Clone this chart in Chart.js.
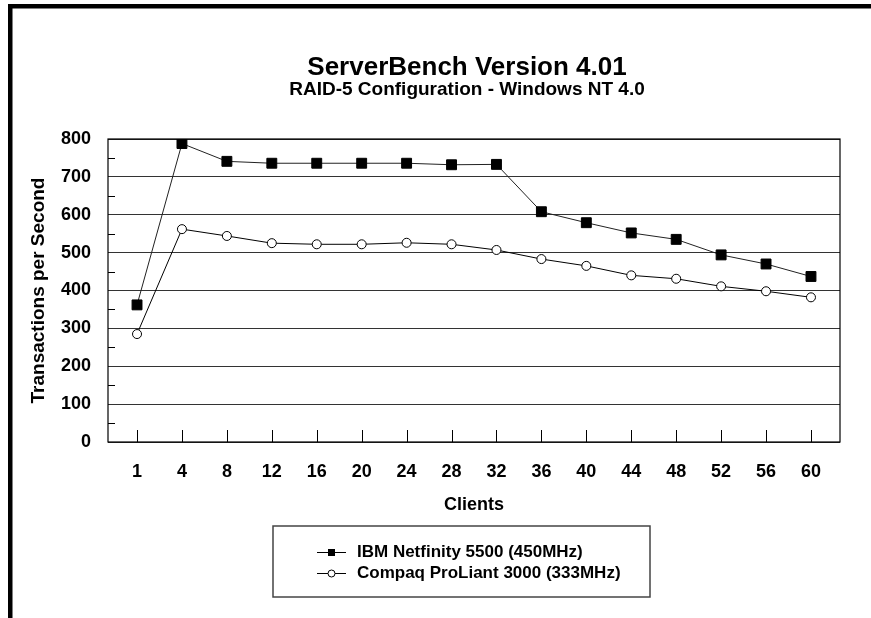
<!DOCTYPE html>
<html>
<head>
<meta charset="utf-8">
<title>ServerBench Version 4.01</title>
<script src="https://cdn.jsdelivr.net/npm/chart.js@4.4.0/dist/chart.umd.min.js"></script>
<style>
  html, body { margin: 0; padding: 0; background: #fff; }
  #chart { display: block; }
</style>
</head>
<body>
<canvas id="chart" width="871" height="618"></canvas>
<script>
// Data
var clients = ['1', '4', '8', '12', '16', '20', '24', '28', '32', '36', '40', '44', '48', '52', '56', '60'];
var ibmValues = [362, 788, 741, 736, 736, 736, 736, 732, 733, 608, 579, 552, 535, 494, 470, 437];
var compaqValues = [285, 562, 544, 525, 522, 522, 526, 522, 507, 483, 465, 440, 431, 411, 398, 382];
var seriesNames = ['IBM Netfinity 5500 (450MHz)', 'Compaq ProLiant 3000 (333MHz)'];
var yTicks = [0, 100, 200, 300, 400, 500, 600, 700, 800];
var yMinorTicks = [50, 150, 250, 350, 450, 550, 650, 750];

var FONT = '"Liberation Sans", Arial, sans-serif';

// categories sit on an index axis so the end gaps can be a bit wider than half a slot
function toPoints(values) {
  return values.map(function (v, i) { return { x: i, y: v }; });
}

// frame, titles, inside tick marks and the boxed legend
var decorations = {
  id: 'decorations',
  beforeDraw: function (chart) {
    var ctx = chart.ctx;
    ctx.save();
    ctx.fillStyle = '#fff';
    ctx.fillRect(0, 0, chart.width, chart.height);
    ctx.restore();
  },
  afterDraw: function (chart) {
    var ctx = chart.ctx;
    var area = chart.chartArea;
    var x = chart.scales.x;
    var y = chart.scales.y;
    ctx.save();

    // page frame (top and left only)
    ctx.fillStyle = '#000';
    ctx.fillRect(8, 4, chart.width - 8, 4.5);
    ctx.fillRect(8, 4, 4.5, chart.height - 4);

    // titles
    ctx.fillStyle = '#000';
    ctx.textAlign = 'center';
    ctx.textBaseline = 'alphabetic';
    ctx.font = 'bold 26px ' + FONT;
    ctx.fillText('ServerBench Version 4.01', 467, 75);
    ctx.font = 'bold 19px ' + FONT;
    ctx.fillText('RAID-5 Configuration - Windows NT 4.0', 467, 95);

    // plot border
    ctx.strokeStyle = '#000';
    ctx.lineWidth = 1.2;
    ctx.strokeRect(area.left, area.top, area.right - area.left, area.bottom - area.top);

    // x ticks pointing inward
    ctx.beginPath();
    for (var i = 0; i < clients.length; i++) {
      var px = Math.round(x.getPixelForValue(i)) + 0.5;
      ctx.moveTo(px, area.bottom);
      ctx.lineTo(px, area.bottom - 12);
    }
    // y minor ticks pointing inward
    yMinorTicks.forEach(function (v) {
      var py = Math.round(y.getPixelForValue(v)) + 0.5;
      ctx.moveTo(area.left, py);
      ctx.lineTo(area.left + 7, py);
    });
    ctx.lineWidth = 1;
    ctx.stroke();

    // legend box
    var box = { left: 273, top: 526, right: 650, bottom: 597 };
    ctx.strokeStyle = '#444';
    ctx.lineWidth = 1.5;
    ctx.strokeRect(box.left, box.top, box.right - box.left, box.bottom - box.top);

    var rows = [552, 573];
    chart.data.datasets.forEach(function (ds, idx) {
      var ry = rows[idx] + 0.5;
      ctx.strokeStyle = '#000';
      ctx.lineWidth = 1;
      ctx.beginPath();
      ctx.moveTo(317, ry);
      ctx.lineTo(346, ry);
      ctx.stroke();
      if (ds.pointStyle === 'rect') {
        ctx.fillStyle = '#000';
        ctx.fillRect(328, ry - 3.5, 7, 7);
      } else {
        ctx.fillStyle = '#fff';
        ctx.beginPath();
        ctx.arc(331.5, ry, 3.5, 0, Math.PI * 2);
        ctx.fill();
        ctx.stroke();
      }
      ctx.fillStyle = '#000';
      ctx.font = 'bold 17px ' + FONT;
      ctx.textAlign = 'left';
      ctx.textBaseline = 'middle';
      ctx.fillText(ds.label, 357, ry);
    });

    ctx.restore();
  }
};

new Chart(document.getElementById('chart'), {
  type: 'line',
  data: {
    datasets: [{
      label: seriesNames[0],
      data: toPoints(ibmValues),
      borderColor: '#222',
      borderWidth: 1,
      pointStyle: 'rect',
      pointRadius: 7,
      pointBackgroundColor: '#000',
      pointBorderColor: '#000',
      pointBorderWidth: 1,
      tension: 0
    }, {
      label: seriesNames[1],
      data: toPoints(compaqValues),
      borderColor: '#000',
      borderWidth: 1,
      pointStyle: 'circle',
      pointRadius: 4.5,
      pointBackgroundColor: '#fff',
      pointBorderColor: '#000',
      pointBorderWidth: 1,
      tension: 0
    }]
  },
  options: {
    responsive: false,
    animation: false,
    layout: { padding: { left: 0, right: 31, top: 139, bottom: 96 } },
    plugins: {
      legend: { display: false },
      title: { display: false },
      tooltip: { enabled: false }
    },
    scales: {
      x: {
        type: 'linear',
        min: -0.646,
        max: clients.length - 1 + 0.646,
        afterBuildTicks: function (scale) {
          scale.ticks = clients.map(function (c, i) { return { value: i }; });
        },
        grid: { display: false, drawTicks: false },
        border: { display: false },
        ticks: {
          color: '#000',
          padding: 19,
          maxRotation: 0,
          font: { family: FONT, size: 18, weight: 'bold' },
          callback: function (value) { return clients[value]; }
        },
        title: {
          display: true,
          text: 'Clients',
          color: '#000',
          padding: { top: 0, bottom: 6 },
          font: { family: FONT, size: 18, weight: 'bold' }
        },
        afterFit: function (scale) { scale.height = 80; }
      },
      y: {
        min: 0,
        max: 800,
        afterBuildTicks: function (scale) {
          scale.ticks = yTicks.map(function (v) { return { value: v }; });
        },
        grid: { color: '#333', lineWidth: 1, drawTicks: false },
        border: { display: false },
        ticks: { color: '#000', padding: 17, font: { family: FONT, size: 18, weight: 'bold' } },
        title: {
          display: true,
          text: 'Transactions per Second',
          color: '#000',
          padding: { top: 27, bottom: 0 },
          font: { family: FONT, size: 19, weight: 'bold' }
        },
        afterFit: function (scale) { scale.width = 108; }
      }
    }
  },
  plugins: [decorations]
});
</script>
</body>
</html>
